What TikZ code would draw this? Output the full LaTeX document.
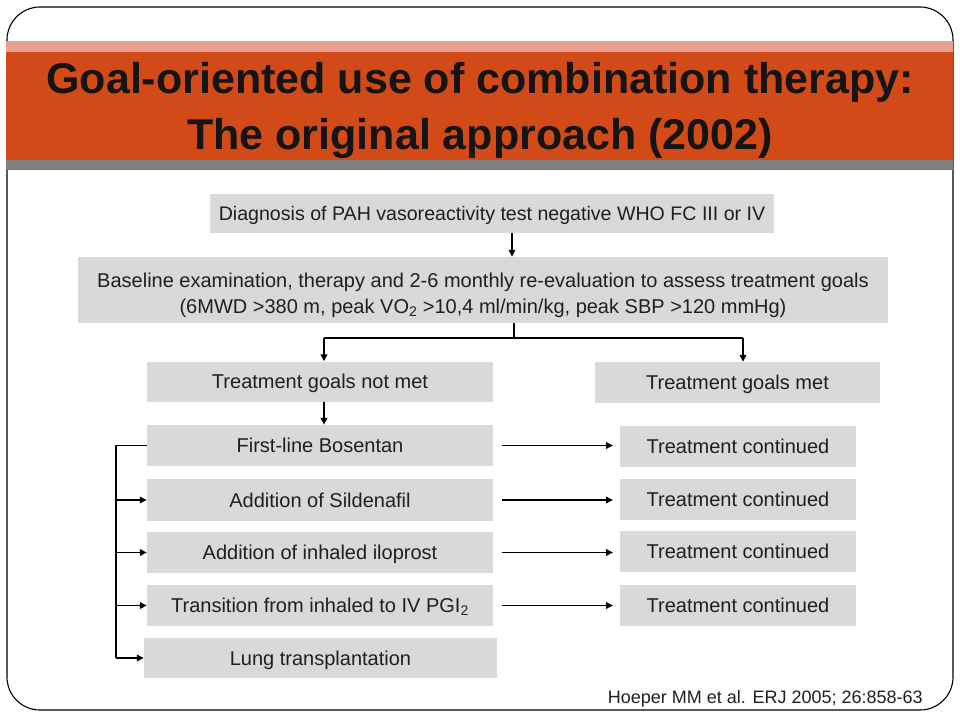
\documentclass[tikz,border=0pt]{standalone}
\usepackage{fontspec}
\setmainfont{Liberation Sans}
\usetikzlibrary{arrows.meta,calc}
\definecolor{bandorange}{RGB}{209,74,24}
\definecolor{bandpink}{RGB}{232,160,148}
\definecolor{bandgray}{RGB}{128,128,128}
\definecolor{boxgray}{RGB}{217,217,217}
\tikzset{
  box/.style={fill=boxgray, inner sep=0pt, align=center, text=black!88,
    font=\fontsize{20}{26}\selectfont, text height=14.3pt, text depth=0pt},
  titletext/.style={font=\bfseries\fontsize{43}{52}\selectfont, text=black!92, anchor=base},
  conn/.style={line width=1.7pt, black},
  arr/.style={conn, -{Triangle[length=7pt,width=6.5pt]}},
}
\begin{document}
\begin{tikzpicture}[x=1pt,y=-1pt]
\useasboundingbox (0,0) rectangle (960,720);
% slide frame
\draw[line width=1.1pt, rounded corners=33pt] (7,7) rectangle (953,710);
% title band
\fill[bandpink] (6,41) rectangle (953,52);
\fill[bandorange] (6,52) rectangle (953,160);
\fill[bandgray] (6,160) rectangle (953,170);
\node[titletext] (title1) at (480,93.5) {Goal-oriented use of combination therapy:};
\node[titletext] (title2) at (480,149) {The original approach (2002)};
% boxes
\node[box, minimum width=564pt, minimum height=39pt, font=\fontsize{19.6}{24}\selectfont] (diag) at (492,213.5)
  {Diagnosis of PAH vasoreactivity test negative WHO FC III or IV};
\node[box, minimum width=810pt, minimum height=66pt, text height=46pt, text depth=0pt] (base) at (483,290)
  {Baseline examination, therapy and 2-6 monthly re-evaluation to assess treatment goals\\
   (6MWD >380 m, peak VO\textsubscript{2} >10,4 ml/min/kg, peak SBP >120 mmHg)};
\node[box, minimum width=346pt, minimum height=40pt] (notmet) at (320,381.5) {Treatment goals not met};
\node[box, minimum width=285pt, minimum height=41pt] (met) at (737.5,382.5) {Treatment goals met};
\node[box, minimum width=346pt, minimum height=41pt] (bos) at (320,445.5) {First-line Bosentan};
\node[box, minimum width=346pt, minimum height=42pt] (sil) at (320,500) {Addition of Sildenafil};
\node[box, minimum width=346pt, minimum height=41pt] (ilo) at (320,552.5) {Addition of inhaled iloprost};
\node[box, minimum width=346pt, minimum height=41pt] (trans) at (320,605.5) {Transition from inhaled to IV PGI\textsubscript{2}};
\node[box, minimum width=353pt, minimum height=40pt] (lung) at (320.5,658) {Lung transplantation};
\node[box, minimum width=236pt, minimum height=41pt] (tc1) at (738,446.5) {Treatment continued};
\node[box, minimum width=236pt, minimum height=41pt] (tc2) at (738,499.5) {Treatment continued};
\node[box, minimum width=236pt, minimum height=41pt] (tc3) at (738,551.5) {Treatment continued};
\node[box, minimum width=236pt, minimum height=41pt] (tc4) at (738,605.5) {Treatment continued};
\node[font=\fontsize{18}{22}\selectfont, text=black!88, anchor=base east, inner sep=0pt] (cite) at (923,703)
  {Hoeper MM et al. ERJ 2005; 26:858-63};
% helper coordinates
\coordinate (x1) at (512,0);
\coordinate (split) at (514,338);
\coordinate (xl) at (324,0);
\coordinate (xr) at (743,0);
\coordinate (brk) at (116,0);
\coordinate (rs) at (502,0);
\coordinate (re) at (613,0);
% connectors
\draw[arr] (diag.south -| x1) -- (base.north -| x1);
\draw[conn] (base.south -| split) -- (split);
\draw[conn] (split -| xl) -- (split -| xr);
\draw[arr] (split -| xl) -- (notmet.north -| xl);
\draw[arr] (split -| xr) -- (met.north -| xr);
\draw[arr] (notmet.south -| xl) -- (bos.north -| xl);
% bracket
\draw[conn] (bos.west) -- (bos.west -| brk) -- (lung.west -| brk);
\draw[arr] (sil.west -| brk) -- (sil.west);
\draw[arr] (ilo.west -| brk) -- (ilo.west);
\draw[arr] (trans.west -| brk) -- (trans.west);
\draw[arr] (lung.west -| brk) -- (lung.west);
% right arrows
\draw[arr] (bos.east -| rs) -- (bos.east -| re);
\draw[arr] (sil.east -| rs) -- (sil.east -| re);
\draw[arr] (ilo.east -| rs) -- (ilo.east -| re);
\draw[arr] (trans.east -| rs) -- (trans.east -| re);
\end{tikzpicture}
\end{document}
